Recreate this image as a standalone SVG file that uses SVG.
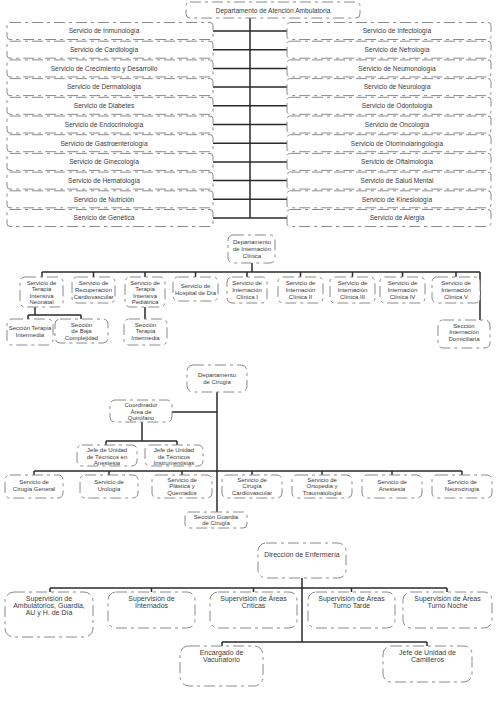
<svg xmlns="http://www.w3.org/2000/svg" width="501" height="720" viewBox="0 0 501 720">
<style>
.b{fill:#fff;stroke:#8a8a8a;stroke-width:1;stroke-dasharray:11 4 3 4}
.c{fill:none;stroke:#2a2a2a;stroke-width:1.5}
text{font-family:"Liberation Sans",Arial,sans-serif;fill:#3a3a3a;text-anchor:middle}
.t1{font-size:6.6px}
.t2{font-size:6px}
.t3{font-size:7px}
</style>
<rect width="501" height="720" fill="#fff"/>
<g id="connectors">
<!-- top -->
<path class="c" d="M250 18V218"/>
<path class="c" d="M213 31H287M213 49.7H287M213 68.4H287M213 87.1H287M213 105.8H287M213 124.5H287M213 143.2H287M213 161.9H287M213 180.6H287M213 199.3H287M213 218H287"/>
<!-- internacion -->
<path class="c" d="M252 263V272M42 272H480M42 272V277M93.5 272V277M145 272V277M195.5 272V277M247 272V277M300.5 272V277M352.5 272V277M402.5 272V277M456 272V277M480 272V320"/>
<path class="c" d="M35 307V315M28 315H81M28 315V319M81 315V319M145 307V319"/>
<!-- cirugia -->
<path class="c" d="M217 392V512M172 412H217M142 422V441M106 441H177M106 441V445M177 441V445"/>
<path class="c" d="M34 471H462M34 471V475M109 471V475M182 471V475M252 471V475M322 471V475M392 471V475M462 471V475"/>
<!-- enfermeria -->
<path class="c" d="M302 578V642M50 588H447M50 588V592M151.5 588V592M253.5 588V592M351.5 588V592M447 588V592M222 642H427M222 642V646M427 642V646"/>
</g>
<g id="n_dep_amb"><rect class="b" x="186" y="2" width="174" height="16" rx="4"/><text class="t1" x="273" y="12.5">Departamento de Atención Ambulatoria</text></g>
<g id="n_l1"><rect class="b" x="7" y="22.5" width="206" height="17" rx="3"/><text class="t1" x="104" y="33.3">Servicio de Inmunología</text></g>
<g id="n_l2"><rect class="b" x="7" y="41.2" width="206" height="17" rx="3"/><text class="t1" x="104" y="52">Servicio de Cardiología</text></g>
<g id="n_l3"><rect class="b" x="7" y="59.9" width="206" height="17" rx="3"/><text class="t1" x="104" y="70.7">Servicio de Crecimiento y Desarrollo</text></g>
<g id="n_l4"><rect class="b" x="7" y="78.6" width="206" height="17" rx="3"/><text class="t1" x="104" y="89.4">Servicio de Dermatología</text></g>
<g id="n_l5"><rect class="b" x="7" y="97.3" width="206" height="17" rx="3"/><text class="t1" x="104" y="108.1">Servicio de Diabetes</text></g>
<g id="n_l6"><rect class="b" x="7" y="116" width="206" height="17" rx="3"/><text class="t1" x="104" y="126.8">Servicio de Endocrinología</text></g>
<g id="n_l7"><rect class="b" x="7" y="134.7" width="206" height="17" rx="3"/><text class="t1" x="104" y="145.5">Servicio de Gastroenterología</text></g>
<g id="n_l8"><rect class="b" x="7" y="153.4" width="206" height="17" rx="3"/><text class="t1" x="104" y="164.2">Servicio de Ginecología</text></g>
<g id="n_l9"><rect class="b" x="7" y="172.1" width="206" height="17" rx="3"/><text class="t1" x="104" y="182.9">Servicio de Hematología</text></g>
<g id="n_l10"><rect class="b" x="7" y="190.8" width="206" height="17" rx="3"/><text class="t1" x="104" y="201.6">Servicio de Nutrición</text></g>
<g id="n_l11"><rect class="b" x="7" y="209.5" width="206" height="17" rx="3"/><text class="t1" x="104" y="220.3">Servicio de Genética</text></g>
<g id="n_r1"><rect class="b" x="287" y="22.5" width="204" height="17" rx="3"/><text class="t1" x="397" y="33.3">Servicio de Infectología</text></g>
<g id="n_r2"><rect class="b" x="287" y="41.2" width="204" height="17" rx="3"/><text class="t1" x="397" y="52">Servicio de Nefrología</text></g>
<g id="n_r3"><rect class="b" x="287" y="59.9" width="204" height="17" rx="3"/><text class="t1" x="397" y="70.7">Servicio de Neumonología</text></g>
<g id="n_r4"><rect class="b" x="287" y="78.6" width="204" height="17" rx="3"/><text class="t1" x="397" y="89.4">Servicio de Neurología</text></g>
<g id="n_r5"><rect class="b" x="287" y="97.3" width="204" height="17" rx="3"/><text class="t1" x="397" y="108.1">Servicio de Odontología</text></g>
<g id="n_r6"><rect class="b" x="287" y="116" width="204" height="17" rx="3"/><text class="t1" x="397" y="126.8">Servicio de Oncología</text></g>
<g id="n_r7"><rect class="b" x="287" y="134.7" width="204" height="17" rx="3"/><text class="t1" x="397" y="145.5">Servicio de Otorrinolaringología</text></g>
<g id="n_r8"><rect class="b" x="287" y="153.4" width="204" height="17" rx="3"/><text class="t1" x="397" y="164.2">Servicio de Oftalmología</text></g>
<g id="n_r9"><rect class="b" x="287" y="172.1" width="204" height="17" rx="3"/><text class="t1" x="397" y="182.9">Servicio de Salud Mental</text></g>
<g id="n_r10"><rect class="b" x="287" y="190.8" width="204" height="17" rx="3"/><text class="t1" x="397" y="201.6">Servicio de Kinesiología</text></g>
<g id="n_r11"><rect class="b" x="287" y="209.5" width="204" height="17" rx="3"/><text class="t1" x="397" y="220.3">Servicio de Alergia</text></g>

<g id="n_dep_int"><rect class="b" x="228" y="235" width="47" height="28" rx="5"/><text class="t2" x="252" y="244">Departamento</text><text class="t2" x="252" y="251">de Internación</text><text class="t2" x="252" y="258">Clínica</text></g>
<g id="n_tin"><rect class="b" x="20" y="277" width="43" height="30" rx="5"/><text class="t2" x="41.5" y="284.5">Servicio de</text><text class="t2" x="41.5" y="291">Terapia</text><text class="t2" x="41.5" y="297.5">Intensiva</text><text class="t2" x="41.5" y="304">Neonatal</text></g>
<g id="n_rcv"><rect class="b" x="72" y="277" width="43" height="26" rx="5"/><text class="t2" x="93.5" y="285">Servicio de</text><text class="t2" x="93.5" y="292">Recuperación</text><text class="t2" x="93.5" y="299">Cardiovascular</text></g>
<g id="n_tip"><rect class="b" x="125" y="277" width="40" height="30" rx="5"/><text class="t2" x="145" y="284.5">Servicio de</text><text class="t2" x="145" y="291">Terapia</text><text class="t2" x="145" y="297.5">Intensiva</text><text class="t2" x="145" y="304">Pediátrica</text></g>
<g id="n_hdd"><rect class="b" x="173" y="277" width="45" height="24" rx="5"/><text class="t2" x="195.5" y="287.5">Servicio de</text><text class="t2" x="195.5" y="294.5">Hospital de Día</text></g>
<g id="n_ic1"><rect class="b" x="227" y="277" width="40" height="26" rx="5"/><text class="t2" x="247" y="285">Servicio de</text><text class="t2" x="247" y="292">Internación</text><text class="t2" x="247" y="299">Clínica I</text></g>
<g id="n_ic2"><rect class="b" x="278" y="277" width="45" height="26" rx="5"/><text class="t2" x="300.5" y="285">Servicio de</text><text class="t2" x="300.5" y="292">Internación</text><text class="t2" x="300.5" y="299">Clínica II</text></g>
<g id="n_ic3"><rect class="b" x="330" y="277" width="45" height="26" rx="5"/><text class="t2" x="352.5" y="285">Servicio de</text><text class="t2" x="352.5" y="292">Internación</text><text class="t2" x="352.5" y="299">Clínica III</text></g>
<g id="n_ic4"><rect class="b" x="380" y="277" width="45" height="26" rx="5"/><text class="t2" x="402.5" y="285">Servicio de</text><text class="t2" x="402.5" y="292">Internación</text><text class="t2" x="402.5" y="299">Clínica IV</text></g>
<g id="n_ic5"><rect class="b" x="432" y="277" width="48" height="26" rx="5"/><text class="t2" x="456" y="285">Servicio de</text><text class="t2" x="456" y="292">Internación</text><text class="t2" x="456" y="299">Clínica V</text></g>
<g id="n_sti1"><rect class="b" x="7" y="319" width="46" height="26" rx="5"/><text class="t2" x="30" y="330">Sección Terapia</text><text class="t2" x="30" y="337">Intermedia</text></g>
<g id="n_sbc"><rect class="b" x="55" y="319" width="53" height="24" rx="5"/><text class="t2" x="81.5" y="326.5">Sección</text><text class="t2" x="81.5" y="333">de Baja</text><text class="t2" x="81.5" y="339.5">Complejidad</text></g>
<g id="n_sti2"><rect class="b" x="124" y="319" width="43" height="26" rx="5"/><text class="t2" x="145.5" y="326.5">Sección</text><text class="t2" x="145.5" y="333">Terapia</text><text class="t2" x="145.5" y="339.5">Intermedia</text></g>
<g id="n_sid"><rect class="b" x="438" y="320" width="52" height="28" rx="5"/><text class="t2" x="464" y="327.5">Sección</text><text class="t2" x="464" y="334">Internación</text><text class="t2" x="464" y="340.5">Domiciliaria</text></g>

<g id="n_dep_cir"><rect class="b" x="187" y="365" width="60" height="27" rx="6"/><text class="t2" x="217" y="377">Departamento</text><text class="t2" x="217" y="384">de Cirugía</text></g>
<g id="n_coord"><rect class="b" x="110" y="400" width="62" height="22" rx="5"/><text class="t2" x="141" y="407">Coordinador</text><text class="t2" x="141" y="413.5">Área de</text><text class="t2" x="141" y="420">Quirófano</text></g>
<g id="n_jta"><rect class="b" x="77" y="445" width="60" height="21" rx="5"/><text class="t2" x="107" y="452">Jefe de Unidad</text><text class="t2" x="107" y="458.5">de Técnicos en</text><text class="t2" x="107" y="465">Anestesia</text></g>
<g id="n_jti"><rect class="b" x="145" y="445" width="58" height="21" rx="5"/><text class="t2" x="174" y="452">Jefe de Unidad</text><text class="t2" x="174" y="458.5">de Técnicos</text><text class="t2" x="174" y="465">Instrumentistas</text></g>
<g id="n_cg"><rect class="b" x="5" y="475" width="58" height="23" rx="5"/><text class="t2" x="34" y="484">Servicio de</text><text class="t2" x="34" y="491">Cirugía General</text></g>
<g id="n_uro"><rect class="b" x="80" y="475" width="58" height="23" rx="5"/><text class="t2" x="109" y="484">Servicio de</text><text class="t2" x="109" y="491">Urología</text></g>
<g id="n_pq"><rect class="b" x="152" y="475" width="60" height="23" rx="5"/><text class="t2" x="182" y="481.5">Servicio de</text><text class="t2" x="182" y="488">Plástica y</text><text class="t2" x="182" y="494.5">Quemados</text></g>
<g id="n_ccv"><rect class="b" x="222" y="475" width="60" height="23" rx="5"/><text class="t2" x="252" y="481.5">Servicio de</text><text class="t2" x="252" y="488">Cirugía</text><text class="t2" x="252" y="494.5">Cardiovascular</text></g>
<g id="n_ot"><rect class="b" x="292" y="475" width="60" height="23" rx="5"/><text class="t2" x="322" y="481.5">Servicio de</text><text class="t2" x="322" y="488">Ortopedia y</text><text class="t2" x="322" y="494.5">Traumatología</text></g>
<g id="n_an"><rect class="b" x="362" y="475" width="60" height="23" rx="5"/><text class="t2" x="392" y="484">Servicio de</text><text class="t2" x="392" y="491">Anestesia</text></g>
<g id="n_nc"><rect class="b" x="432" y="475" width="60" height="23" rx="5"/><text class="t2" x="462" y="484">Servicio de</text><text class="t2" x="462" y="491">Neurocirugía</text></g>
<g id="n_sgc"><rect class="b" x="185" y="512" width="62" height="16" rx="4"/><text class="t2" x="216" y="518.5">Sección Guardia</text><text class="t2" x="216" y="525">de Cirugía</text></g>

<g id="n_enf"><rect class="b" x="258" y="543" width="88" height="35" rx="8"/><text class="t3" x="302" y="557">Dirección de Enfermería</text></g>
<g id="n_s1"><rect class="b" x="5" y="592" width="88" height="45" rx="9"/><text class="t3" x="49" y="601">Supervisión de</text><text class="t3" x="49" y="608">Ambulatorios, Guardia,</text><text class="t3" x="49" y="615">AU y H. de Día</text></g>
<g id="n_s2"><rect class="b" x="108" y="592" width="87" height="36" rx="8"/><text class="t3" x="151.5" y="601">Supervisión de</text><text class="t3" x="151.5" y="608">Internados</text></g>
<g id="n_s3"><rect class="b" x="210" y="592" width="87" height="36" rx="8"/><text class="t3" x="253.5" y="601">Supervisión de Áreas</text><text class="t3" x="253.5" y="608">Críticas</text></g>
<g id="n_s4"><rect class="b" x="308" y="592" width="87" height="36" rx="8"/><text class="t3" x="351.5" y="601">Supervisión de Áreas</text><text class="t3" x="351.5" y="608">Turno Tarde</text></g>
<g id="n_s5"><rect class="b" x="403" y="592" width="89" height="36" rx="8"/><text class="t3" x="447.5" y="601">Supervisión de Áreas</text><text class="t3" x="447.5" y="608">Turno Noche</text></g>
<g id="n_vac"><rect class="b" x="180" y="646" width="83" height="40" rx="9"/><text class="t3" x="221.5" y="655">Encargado de</text><text class="t3" x="221.5" y="662">Vacunatorio</text></g>
<g id="n_cam"><rect class="b" x="383" y="646" width="89" height="36" rx="8"/><text class="t3" x="427.5" y="655">Jefe de Unidad de</text><text class="t3" x="427.5" y="662">Camilleros</text></g>
</svg>
